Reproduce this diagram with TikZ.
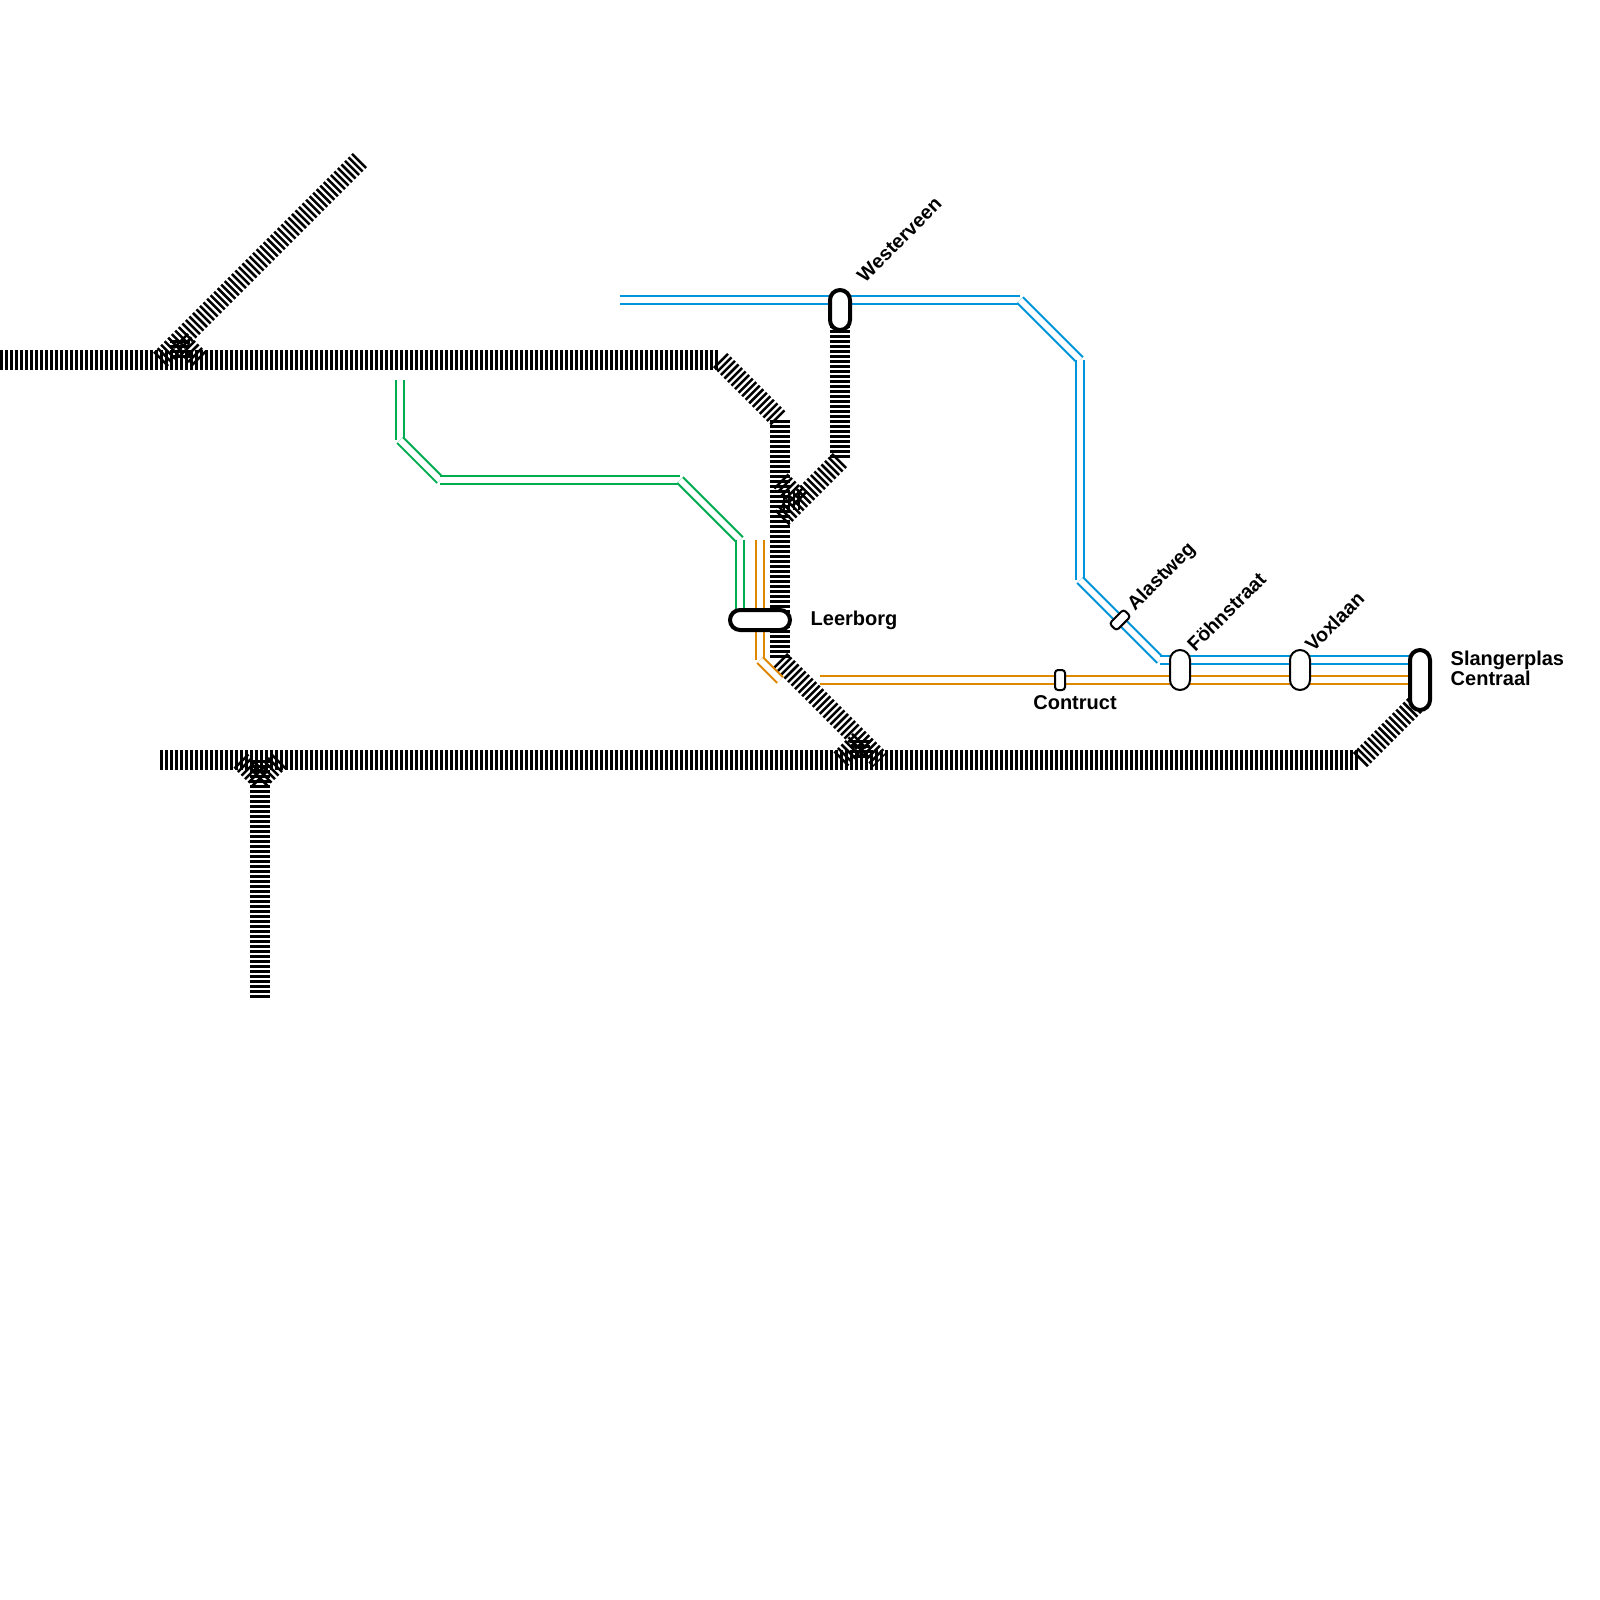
\documentclass[tikz,border=0pt]{standalone}
\usepackage{fontspec}
\setmainfont{Liberation Sans}
\usepackage{tikz}
\usetikzlibrary{positioning}
\definecolor{railblue}{RGB}{0, 149, 218}
\definecolor{railgreen}{RGB}{0, 172, 80}
\definecolor{railorange}{RGB}{224, 135, 0}

\begin{document}
\begin{tikzpicture}[x=0.28bp, y=-0.28bp,
    track/.style={line width=5.6bp, dash pattern=on .7bp off .7bp},
    rail/.style={line width=.56bp, double=white, double distance=1.68bp},
    halt/.style={draw=black, fill=white, line width=.56bp, inner sep=0pt},
    hub/.style={draw=black, fill=white, line width=1.12bp, inner sep=0pt},
    stationname/.style={inner sep=0pt, font=\fontsize{5.6bp}{5.6bp}\selectfont\bfseries},
    tiltname/.style={inner sep=0pt, anchor=west, rotate=45, font=\fontsize{5.5bp}{5.5bp}\selectfont\bfseries}]
  \useasboundingbox (0,0) rectangle (1600,1600);

  % Track points
  \coordinate (mainw) at (0,360);
  \coordinate (maine) at (720,360);
  \coordinate (mainbendn) at (780,420);
  \coordinate (mainbends) at (780,660);
  \coordinate (lowe) at (880,760);
  \coordinate (lowstart) at (160,760);
  \coordinate (lowend) at (1360,760);
  \coordinate (spurtop) at (360,160);
  \coordinate (spurfoot) at (160,360);
  \coordinate (spurj) at (180,340);
  \coordinate (spurr) at (200,360);
  \coordinate (spurm) at (180,360);
  \coordinate (lowj) at (860,740);
  \coordinate (lowl) at (840,760);
  \coordinate (lowm) at (860,760);
  \coordinate (southj) at (260,780);
  \coordinate (southl) at (240,760);
  \coordinate (southm) at (260,760);
  \coordinate (southr) at (280,760);
  \coordinate (southend) at (260,1000);
  \coordinate (westj) at (800,500);
  \coordinate (westa) at (780,480);
  \coordinate (westb) at (780,500);
  \coordinate (westc) at (780,520);
  \coordinate (westtop) at (840,460);
  \coordinate (westst) at (840,310);
  \coordinate (slangerj) at (1420,700);

  % Black tracks
  \draw[track] (mainw) -- (maine);
  \draw[track] (maine) -- (mainbendn);
  \draw[track] (mainbendn) -- (mainbends);
  \draw[track] (mainbends) -- (lowe);
  \draw[track] (lowstart) -- (lowend);
  \draw[track] (lowend) -- (slangerj);
  \draw[track] (spurtop) -- (spurfoot);
  \draw[track] (spurj) -- (spurr);
  \draw[track] (spurj) -- (spurm);
  \draw[track] (lowj) -- (lowl);
  \draw[track] (lowj) -- (lowm);
  \draw[track] (southj) -- (southend);
  \draw[track] (southj) -- (southl);
  \draw[track] (southm) -- (southj);
  \draw[track] (southj) -- (southr);
  \draw[track] (westtop) -- (westc);
  \draw[track] (westj) -- (westa);
  \draw[track] (westj) -- (westb);
  \draw[track] (westst) -- (westtop);

  % Green line
  \coordinate (ga) at (400,380);
  \coordinate (gb) at (400,440);
  \coordinate (gc) at (440,480);
  \coordinate (gd) at (680,480);
  \coordinate (ge) at (740,540);
  \coordinate (gf) at (740,620);
  \draw[rail, railgreen] (ga) -- (gb);
  \draw[rail, railgreen] (gb) -- (gc);
  \draw[rail, railgreen] (gc) -- (gd);
  \draw[rail, railgreen] (gd) -- (ge);
  \draw[rail, railgreen] (ge) -- (gf);

  % Orange line
  \coordinate (oa) at (760,540);
  \coordinate (ob) at (760,660);
  \coordinate (oc) at (780,680);
  \coordinate (od) at (820,680);
  \coordinate (oe) at (1420,680);
  \draw[rail, railorange] (oa) -- (ob);
  \draw[rail, railorange] (ob) -- (oc);
  \draw[rail, railorange] (od) -- (oe);

  % Blue line
  \coordinate (ba) at (620,300);
  \coordinate (bb) at (1020,300);
  \coordinate (bc) at (1080,360);
  \coordinate (bd) at (1080,580);
  \coordinate (be) at (1160,660);
  \coordinate (bf) at (1420,660);
  \draw[rail, railblue] (ba) -- (bb);
  \draw[rail, railblue] (bb) -- (bc);
  \draw[rail, railblue] (bc) -- (bd);
  \draw[rail, railblue] (bd) -- (be);
  \draw[rail, railblue] (be) -- (bf);

  % Stations
  \node (leerborg) [hub, minimum width=16.8bp, minimum height=5.6bp, rounded corners=2.8bp] at (760,620) {};
  \node (westerveen) [hub, minimum width=5.6bp, minimum height=11.2bp, rounded corners=2.8bp] at (840,310) {};
  \node (slangerplas) [hub, minimum width=5.6bp, minimum height=16.8bp, rounded corners=2.8bp] at (1420,680) {};
  \node (fohnstraat) [halt, minimum width=5.6bp, minimum height=11.2bp, rounded corners=2.8bp] at (1180,670) {};
  \node (voxlaan) [halt, minimum width=5.6bp, minimum height=11.2bp, rounded corners=2.8bp] at (1300,670) {};
  \node (contruct) [halt, minimum width=2.8bp, minimum height=5.6bp, rounded corners=.84bp] at (1060,680) {};
  \node (alastweg) [halt, rotate=45, minimum width=5.6bp, minimum height=2.8bp, rounded corners=.84bp] at (1120,620) {};

  % Station names
  \node (leerborgname) [stationname, anchor=west] at (810,620) {Leerborg};
  \node (contructname) [stationname] at (1075,703) {Contruct};
  \node (westerveenname) [tiltname] at (860,279) {Westerveen};
  \node (alastwegname) [tiltname] at (1131,608) {Alastweg};
  \node (fohnstraatname) [tiltname] at (1190,648) {Föhnstraat};
  \node (voxlaanname) [tiltname] at (1308,648) {Voxlaan};
  \node (slangerplasname) [stationname, anchor=west, align=left] at (1450,668) {Slangerplas\\Centraal};
\end{tikzpicture}
\end{document}
